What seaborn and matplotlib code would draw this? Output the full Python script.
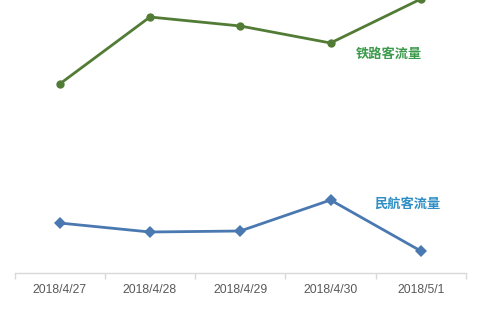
import matplotlib
matplotlib.use("Agg")
import matplotlib.pyplot as plt
import seaborn as sns
import pandas as pd

dates = ["2018/4/27", "2018/4/28", "2018/4/29", "2018/4/30", "2018/5/1"]
rail = [189, 256, 247, 230, 274]
air = [50, 41, 42, 73, 22]
rail_name = "铁路客流量"
air_name = "民航客流量"

sns.set_theme(style="white")
plt.rcParams['font.family'] = ['Liberation Sans', 'Noto Sans CJK SC', 'DejaVu Sans']

fig = plt.figure(figsize=(4.83, 3.22), dpi=100)
ax = fig.add_axes([14.5/483, 1 - 273/322, (466 - 14.5)/483, 273/322])

df_rail = pd.DataFrame({"date": dates, "value": rail})
df_air = pd.DataFrame({"date": dates, "value": air})

sns.lineplot(data=df_rail, x="date", y="value", ax=ax, color="#527c36",
             linewidth=2.0, marker="o", markersize=6, markeredgewidth=0,
             clip_on=True)
sns.lineplot(data=df_air, x="date", y="value", ax=ax, color="#4a78b0",
             linewidth=2.0, marker="D", markersize=6, markeredgewidth=0,
             clip_on=True)

ax.set_xlim(-0.5, 4.5)
ax.set_ylim(0, 273)
ax.set_xlabel("")
ax.set_ylabel("")
ax.set_yticks([])

for s in ["top", "right", "left"]:
    ax.spines[s].set_visible(False)
ax.spines["bottom"].set_color("#d9d9d9")
ax.spines["bottom"].set_linewidth(1.0)

ax.tick_params(axis="x", which="major", length=0, pad=8, labelsize=8.7,
               labelcolor="#595959")
ax.set_xticks([-0.5 + i for i in range(6)], minor=True)
ax.tick_params(axis="x", which="minor", length=4, color="#d9d9d9", width=1,
               direction="out", bottom=True)

ax.text(3.65, 219, rail_name, color="#3c9a4c", fontsize=9.5,
        fontweight="bold", family=['Noto Sans CJK SC', 'DejaVu Sans'],
        ha="center", va="center")
ax.text(3.85, 69, air_name, color="#2f8fc4", fontsize=9.5,
        fontweight="bold", family=['Noto Sans CJK SC', 'DejaVu Sans'],
        ha="center", va="center")

fig.savefig("out.png", dpi=100)
